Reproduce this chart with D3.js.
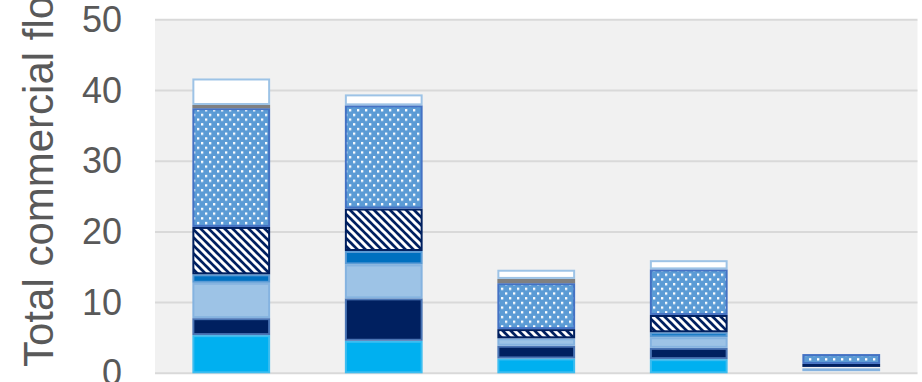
<!DOCTYPE html>
<html>
<head>
<meta charset="utf-8">
<script src="https://cdn.jsdelivr.net/npm/d3@7"></script>
<style>
  html, body { margin: 0; padding: 0; background: #ffffff; }
  svg { display: block; font-family: "Liberation Sans", Arial, sans-serif; }
</style>
</head>
<body>
<svg id="chart" width="922" height="382"></svg>
<script>
// Building categories along the x axis
const categories = ["Group A", "Group B", "Group C", "Group D", "Group E"];

// Stacked components, listed bottom to top
const seriesNames = ["Component 1", "Component 2", "Component 3", "Component 4",
                     "Component 5", "Component 6", "Component 7", "Component 8"];

// Floor area per component and category
const component1 = [5.4, 4.6, 2.1, 2.0, 0.05];
const component2 = [2.4, 6.0, 1.8, 1.6, 0.25];
const component3 = [5.0, 4.8, 1.05, 1.5, 0.4];
const component4 = [1.2, 1.9, 0.0, 0.7, 0.2];
const component5 = [6.7, 6.0, 1.3, 2.45, 0.42];
const component6 = [16.8, 14.6, 6.5, 6.45, 1.4];
const component7 = [0.45, 0.0, 0.6, 0.0, 0.0];
const component8 = [3.75, 1.55, 1.3, 1.3, 0.25];

const yTicks = [0, 10, 20, 30, 40, 50];
const yLabel = "Total commercial floorspace (million m²)";

const seriesValues = [component1, component2, component3, component4,
                      component5, component6, component7, component8];

const rows = categories.map((c, i) => {
  const r = { category: c };
  seriesNames.forEach((s, j) => { r[s] = seriesValues[j][i]; });
  return r;
});

const svg = d3.select("#chart");
const plot = { left: 155, right: 917.5, top: 19.8, bottom: 373.3 };

// Fill patterns
const defs = svg.append("defs");
const dots = defs.append("pattern").attr("id", "dots")
  .attr("patternUnits", "userSpaceOnUse").attr("width", 8).attr("height", 9.4);
dots.append("rect").attr("width", 8).attr("height", 9.4).attr("fill", "#5b9bd5");
dots.append("rect").attr("x", 1).attr("y", 1).attr("width", 2.3).attr("height", 2.3).attr("fill", "#ffffff");
dots.append("rect").attr("x", 5).attr("y", 5.7).attr("width", 2.3).attr("height", 2.3).attr("fill", "#ffffff");

const hatch = defs.append("pattern").attr("id", "hatch")
  .attr("patternUnits", "userSpaceOnUse").attr("width", 8).attr("height", 8);
hatch.append("rect").attr("width", 8).attr("height", 8).attr("fill", "#002060");
hatch.append("path")
  .attr("d", "M-2,-2 L10,10 M-2,6 L2,10 M6,-2 L10,2")
  .attr("stroke", "#ffffff").attr("stroke-width", 3);

const styles = {
  "Component 1": { fill: "#00b0f0", stroke: "#3dbdf0" },
  "Component 2": { fill: "#002060", stroke: "#4a74b4" },
  "Component 3": { fill: "#9dc3e6", stroke: "#85b3e0" },
  "Component 4": { fill: "#0070c0", stroke: "#5b9bd5" },
  "Component 5": { fill: "url(#hatch)", stroke: "#002060" },
  "Component 6": { fill: "url(#dots)", stroke: "#4472c4" },
  "Component 7": { fill: "#808080", stroke: "#808080" },
  "Component 8": { fill: "#ffffff", stroke: "#9dc3e6" }
};

const x = d3.scaleBand().domain(categories)
  .range([plot.left, plot.right]).paddingInner(0.49).paddingOuter(0.245);
const y = d3.scaleLinear().domain([0, 50]).range([plot.bottom, plot.top]);

// Plot background
svg.append("rect")
  .attr("x", plot.left).attr("y", plot.top)
  .attr("width", plot.right - plot.left).attr("height", plot.bottom - plot.top)
  .attr("fill", "#f1f1f1");

// Gridlines
svg.append("g").selectAll("line").data(yTicks).join("line")
  .attr("x1", plot.left).attr("x2", plot.right)
  .attr("y1", d => y(d)).attr("y2", d => y(d))
  .attr("stroke", "#d9d9d9").attr("stroke-width", 2);

// Y axis labels
const yAxis = d3.axisLeft(y).tickValues(yTicks).tickSize(0).tickPadding(0);
const gy = svg.append("g").attr("transform", `translate(122,0)`).call(yAxis);
gy.select(".domain").remove();
gy.selectAll("text")
  .attr("font-size", 36).attr("fill", "#595959")
  .attr("font-family", "'Liberation Sans', Arial, sans-serif");

// Y axis title
svg.append("text")
  .attr("transform", "translate(53,367) rotate(-90)")
  .attr("text-anchor", "start")
  .attr("font-size", 42).attr("fill", "#595959")
  .text(yLabel);

// Stacked bars
const stack = d3.stack().keys(seriesNames);
const layers = stack(rows);

svg.append("g").selectAll("g").data(layers).join("g")
  .each(function(layer) {
    const st = styles[layer.key];
    d3.select(this).selectAll("rect")
      .data(layer.filter(d => d[1] - d[0] > 0))
      .join("rect")
      .attr("x", d => x(d.data.category) + 1)
      .attr("width", x.bandwidth() - 2)
      .attr("y", d => y(d[1]) + 1)
      .attr("height", d => Math.max(0, y(d[0]) - y(d[1]) - 2))
      .attr("fill", st.fill)
      .attr("stroke", st.stroke)
      .attr("stroke-width", 2);
  });
</script>
</body>
</html>
